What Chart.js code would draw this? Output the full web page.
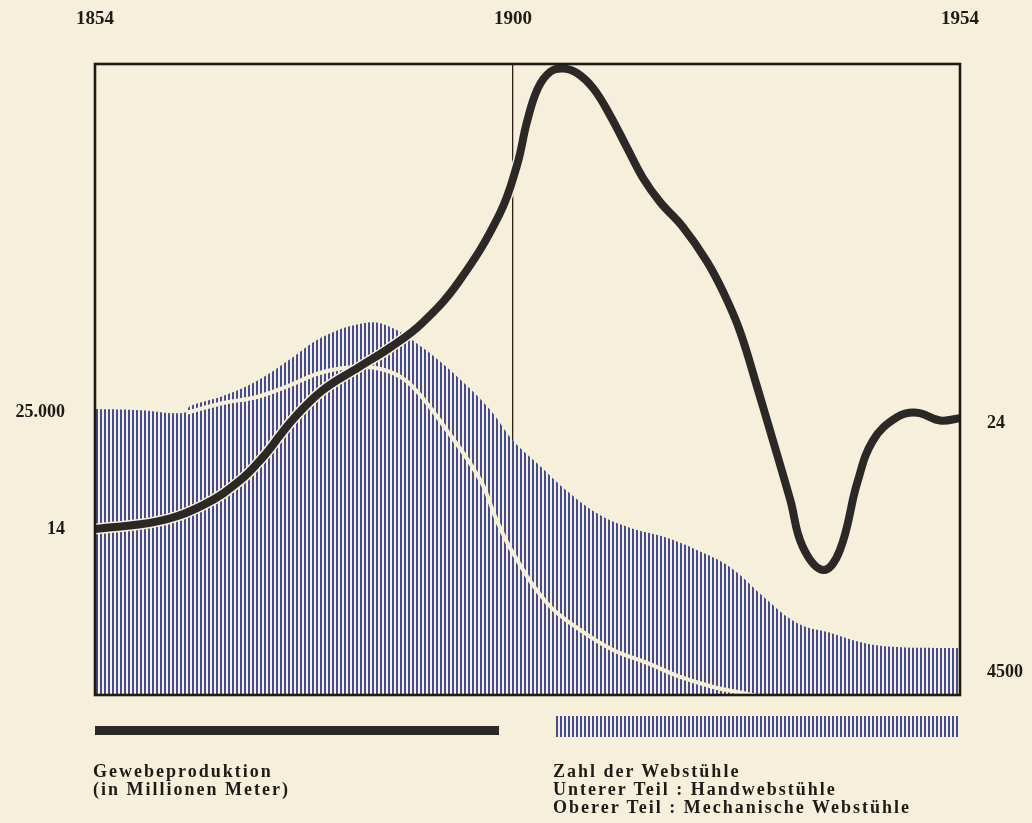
<!DOCTYPE html>
<html lang="de">
<head>
<meta charset="utf-8">
<title>Gewebeproduktion und Webstühle 1854 - 1954</title>
<script src="https://cdn.jsdelivr.net/npm/chart.js@4.4.1/dist/chart.umd.min.js"></script>
<style>
    html, body { margin: 0; padding: 0; background: #f6efdc; }
    #wrap { position: relative; width: 1032px; height: 823px; overflow: hidden; }
    #chart { position: absolute; left: 0; top: 0; }
    .bar-prod { position: absolute; left: 95px; top: 726px; width: 404px; height: 9px; background: #2b2826; }
    .bar-looms { position: absolute; left: 556px; top: 716px; width: 404px; height: 21px;
        background: repeating-linear-gradient(90deg, #464c8c 0px, #464c8c 2px, transparent 2px, transparent 4px); }
    .legend { position: absolute; top: 762px; font-family: "Liberation Serif", serif; font-weight: bold;
        font-size: 18px; line-height: 18px; color: #1e1a16; white-space: nowrap; letter-spacing: 2px; }
    .legend.left { left: 93px; }
    .legend.right { left: 553px; }
</style>
</head>
<body>
<div id="wrap">
    <canvas id="chart" width="1032" height="823"></canvas>
    <div class="bar-prod"></div>
    <div class="bar-looms"></div>
    <div class="legend left">Gewebeproduktion<br>(in Millionen Meter)</div>
    <div class="legend right">Zahl der Webstühle<br>Unterer Teil : Handwebstühle<br>Oberer Teil : Mechanische Webstühle</div>
</div>
<script>
(function () {
    "use strict";

    // Gewebeproduktion (Mio. Meter)
    var prodYears = [1854, 1861, 1866, 1870, 1872.5, 1874.5, 1876, 1879, 1883, 1886.5, 1890, 1894, 1898.5, 1900.5,
        1901.7, 1903, 1904.5, 1906, 1907.7, 1909.7, 1911.7, 1913.8, 1915.7, 1917.8, 1920.5, 1923.4, 1925.4, 1927.4,
        1929.5, 1931.4, 1933.5, 1935, 1937.5, 1939.5, 1941.6, 1943.5, 1946.4, 1948.8, 1951.6, 1954];
    var prodValues = [14, 14.7, 16.2, 18.4, 20.5, 22.6, 24.1, 26.5, 28.6, 30.4, 32.6, 36.3, 42.4, 46.9,
        50.8, 53.8, 55.3, 55.6, 55.2, 53.8, 51.4, 48.4, 45.7, 43.5, 41.3, 38.2, 35.4, 31.9,
        26.8, 22, 16.6, 12.4, 10.3, 12.1, 18.2, 22, 24.1, 24.5, 23.8, 24];

    // Zahl der Webstühle insgesamt (Hand + mechanisch)
    var totalYears = [1854, 1859, 1863.7, 1864.5, 1868, 1872, 1875.5, 1879.1, 1883.9, 1886.5, 1890.1, 1893.9,
        1897.5, 1900, 1903.3, 1906.5, 1910.3, 1914.2, 1918.3, 1922.2, 1926.2, 1930.3, 1934.3, 1938.3, 1942.4,
        1946.4, 1954];
    var totalLooms = [25000, 24900, 24660, 25260, 26100, 27500, 29300, 31200, 32400, 32030, 30230, 27750,
        24920, 22300, 20100, 18000, 16000, 14800, 14020, 12910, 11450, 8880, 6650, 5800, 4930,
        4590, 4500];

    // Handwebstühle (unterer Teil)
    var handYears = [1864, 1868.1, 1871.8, 1875.5, 1879.1, 1883.2, 1886.5, 1889, 1892.7, 1896.4, 1898.2, 1900,
        1904.1, 1908.1, 1912.1, 1916.2, 1920.2, 1924.2, 1928.3, 1931.5];
    var handLooms = [24660, 25520, 26030, 27060, 28180, 28600, 28180, 26890, 23200, 18910, 15480, 12650,
        8360, 6050, 4330, 3220, 2020, 1160, 560, 0];

    // Tick labels
    var xTicks = [1854, 1900, 1954];
    var loomTicksLeft = [25000];
    var loomTicksRight = [4500];
    var prodTicksLeft = [14];
    var prodTicksRight = [24];

    var BG = "#f6efdc";
    var INK = "#1e1a16";
    var tickFont = { family: "Liberation Serif", size: 18, weight: "bold" };

    // Year axis: the 1900 mark sits a bit right of a linear position
    var BREAK_YEAR = 1900;
    var BREAK_POS = 418 / 865;
    class YearScale extends Chart.LinearScale {
        getPixelForValue(value) {
            if (value === null || isNaN(value)) {
                return NaN;
            }
            var d;
            if (value <= BREAK_YEAR) {
                d = (value - this.min) / (BREAK_YEAR - this.min) * BREAK_POS;
            } else {
                d = BREAK_POS + (value - BREAK_YEAR) / (this.max - BREAK_YEAR) * (1 - BREAK_POS);
            }
            return this.getPixelForDecimal(d);
        }
        getValueForPixel(pixel) {
            var d = this.getDecimalForPixel(pixel);
            if (d <= BREAK_POS) {
                return this.min + d / BREAK_POS * (BREAK_YEAR - this.min);
            }
            return BREAK_YEAR + (d - BREAK_POS) / (1 - BREAK_POS) * (this.max - BREAK_YEAR);
        }
    }
    YearScale.id = "year";
    YearScale.defaults = Chart.LinearScale.defaults;
    Chart.register(YearScale);

    // vertical stripe pattern for the looms area
    var hatch = function () {
        var c = document.createElement("canvas");
        c.width = 4;
        c.height = 4;
        var g = c.getContext("2d");
        g.fillStyle = "#464c8c";
        g.fillRect(0, 0, 2, 4);
        return g.createPattern(c, "repeat");
    };

    var points = function (xs, ys) {
        return xs.map(function (x, i) { return { x: x, y: ys[i] }; });
    };

    var fixedTicks = function (list) {
        return function (scale) {
            scale.ticks = list.map(function (v) { return { value: v }; });
        };
    };

    var fmt = function (v) {
        return v >= 10000 ? v.toLocaleString("de-DE") : String(v);
    };

    var sideAxis = function (pos, weight, min, max, ticks, width, extra) {
        var ax = {
            type: "linear",
            position: pos,
            weight: weight,
            min: min,
            max: max,
            afterBuildTicks: fixedTicks(ticks),
            afterFit: function (scale) { scale.width = width; },
            grid: { display: false, drawTicks: false },
            border: { display: false },
            ticks: { font: tickFont, color: INK, padding: pos === "left" ? 30 : 27, callback: fmt }
        };
        if (extra) {
            Object.assign(ax.ticks, extra);
        }
        return ax;
    };

    // frame round the plot area, paper colour, and room for the labels of the thin side axes
    var framePlugin = {
        id: "frame",
        afterLayout: function (chart) {
            chart.scales.prod.left = 0;
            chart.scales.prodR.right = chart.width;
        },
        beforeDraw: function (chart) {
            var ctx = chart.ctx;
            ctx.save();
            ctx.fillStyle = BG;
            ctx.fillRect(0, 0, chart.width, chart.height);
            ctx.restore();
        },
        afterDraw: function (chart) {
            var a = chart.chartArea;
            var ctx = chart.ctx;
            ctx.save();
            ctx.strokeStyle = INK;
            ctx.lineWidth = 2.6;
            ctx.strokeRect(a.left, a.top, a.right - a.left, a.bottom - a.top);
            ctx.restore();
        }
    };

    var ctx = document.getElementById("chart").getContext("2d");
    var myChart = new Chart(ctx, {
        type: "line",
        data: {
            datasets: [{
                    label: "Gewebeproduktion",
                    data: points(prodYears, prodValues),
                    yAxisID: "prod",
                    borderColor: "#2b2826",
                    borderWidth: 8,
                    pointRadius: 0,
                    tension: 0.4,
                    fill: false
                },
                {
                    // thin paper-coloured rim round the production line
                    label: "",
                    data: points(prodYears, prodValues),
                    yAxisID: "prod",
                    borderColor: BG,
                    borderWidth: 11,
                    pointRadius: 0,
                    tension: 0.4,
                    fill: false
                },
                {
                    label: "Handwebstühle",
                    data: points(handYears, handLooms),
                    yAxisID: "looms",
                    borderColor: BG,
                    borderWidth: 4,
                    pointRadius: 0,
                    tension: 0.4,
                    fill: false
                },
                {
                    label: "Webstühle",
                    data: points(totalYears, totalLooms),
                    yAxisID: "looms",
                    borderColor: "transparent",
                    borderWidth: 0,
                    backgroundColor: hatch(),
                    pointRadius: 0,
                    tension: 0.4,
                    fill: "start"
                }
            ]
        },
        options: {
            responsive: false,
            animation: false,
            events: [],
            layout: { padding: { left: 0, right: 0, top: 0, bottom: 128 } },
            plugins: {
                legend: { display: false },
                tooltip: { enabled: false }
            },
            scales: {
                x: {
                    type: "year",
                    position: "top",
                    min: 1854,
                    max: 1954,
                    afterBuildTicks: fixedTicks(xTicks),
                    afterFit: function (scale) { scale.height = 64; },
                    border: { display: false },
                    grid: {
                        drawTicks: false,
                        lineWidth: 1.3,
                        color: function (c) {
                            return c.tick && c.tick.value === 1900 ? "#2b2118" : "transparent";
                        }
                    },
                    ticks: {
                        font: { family: "Liberation Serif", size: 19, weight: "bold" },
                        color: INK,
                        padding: 34,
                        maxRotation: 0,
                        autoSkip: false,
                        callback: function (v) { return String(v); }
                    }
                },
                looms: sideAxis("left", 1, 470, 54600, loomTicksLeft, 95, { labelOffset: 3 }),
                prod: sideAxis("left", 0, -1, 56, prodTicksLeft, 0),
                loomsR: sideAxis("right", 1, 470, 54600, loomTicksRight, 72, { labelOffset: 24 }),
                prodR: sideAxis("right", 0, -1, 56, prodTicksRight, 0, { labelOffset: 5 })
            }
        },
        plugins: [framePlugin]
    });
})();
</script>
</body>
</html>
